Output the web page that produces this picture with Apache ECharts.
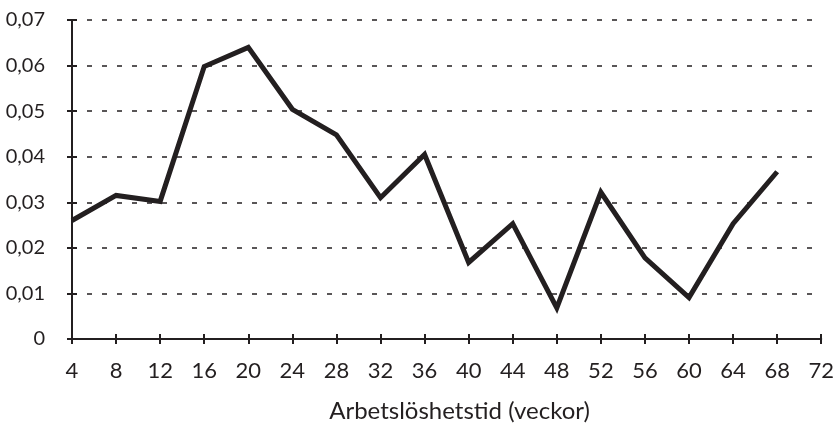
<!DOCTYPE html>
<html>
<head>
<meta charset="utf-8">
<script src="https://cdn.jsdelivr.net/npm/echarts@6/dist/echarts.min.js"></script>
<style>
  html, body { margin: 0; padding: 0; background: #fff; }
  #chart { width: 837px; height: 428px; }
</style>
</head>
<body>
<div id="chart"></div>
<script>
// weeks of unemployment (x) and the rate (y)
const weeks = [4, 8, 12, 16, 20, 24, 28, 32, 36, 40, 44, 48, 52, 56, 60, 64, 68];
const rates = [0.026, 0.0315, 0.0302, 0.0598, 0.064, 0.0504, 0.0448, 0.031, 0.0405,
               0.0168, 0.0253, 0.0068, 0.0322, 0.0178, 0.0091, 0.0253, 0.0367];
const xName = "Arbetslöshetstid (veckor)";

document.addEventListener("DOMContentLoaded", () => {
  const chart = echarts.init(document.getElementById("chart"));
  const ink = "#231f20";
  const font = "Lato";
  const tick = { show: true, length: 5, lineStyle: { color: ink, width: 2 } };

  chart.setOption({
    animation: false,
    grid: { left: 72, right: 8, top: 20, bottom: 86 },
    xAxis: [{
      type: "value",
      min: 4, max: 72, interval: 4,
      name: xName,
      nameLocation: "middle",
      nameGap: 60,
      nameTextStyle: { color: ink, fontSize: 24, fontFamily: font, padding: [0, 0, 0, 26] },
      axisLine: { lineStyle: { color: ink, width: 2 } },
      axisTick: { ...tick, inside: true },
      axisLabel: { color: ink, fontSize: 22, fontFamily: font, margin: 21 },
      splitLine: { show: false }
    }, {
      // second pass only for the ticks below the line, so they cross it
      type: "value",
      min: 4, max: 72, interval: 4,
      position: "bottom",
      axisLine: { show: false },
      axisTick: tick,
      axisLabel: { show: false },
      splitLine: { show: false }
    }],
    yAxis: [{
      type: "value",
      min: 0, max: 0.07, interval: 0.01,
      axisLine: { show: true, lineStyle: { color: ink, width: 2 } },
      axisTick: tick,
      axisLabel: {
        color: ink, fontSize: 20, fontFamily: font, margin: 27,
        formatter: v => v === 0 ? "0" : v.toFixed(2).replace(".", ",")
      },
      splitLine: { show: true, lineStyle: { color: ink, type: [5, 10], width: 1.5 } }
    }, {
      type: "value",
      min: 0, max: 0.07, interval: 0.01,
      position: "left",
      axisLine: { show: false },
      axisTick: { ...tick, inside: true },
      axisLabel: { show: false },
      splitLine: { show: false }
    }],
    series: [{
      type: "line",
      data: weeks.map((w, i) => [w, rates[i]]),
      showSymbol: false,
      lineStyle: { color: ink, width: 5, join: "miter" }
    }]
  });

  window.addEventListener("resize", () => chart.resize());
});
</script>
</body>
</html>
